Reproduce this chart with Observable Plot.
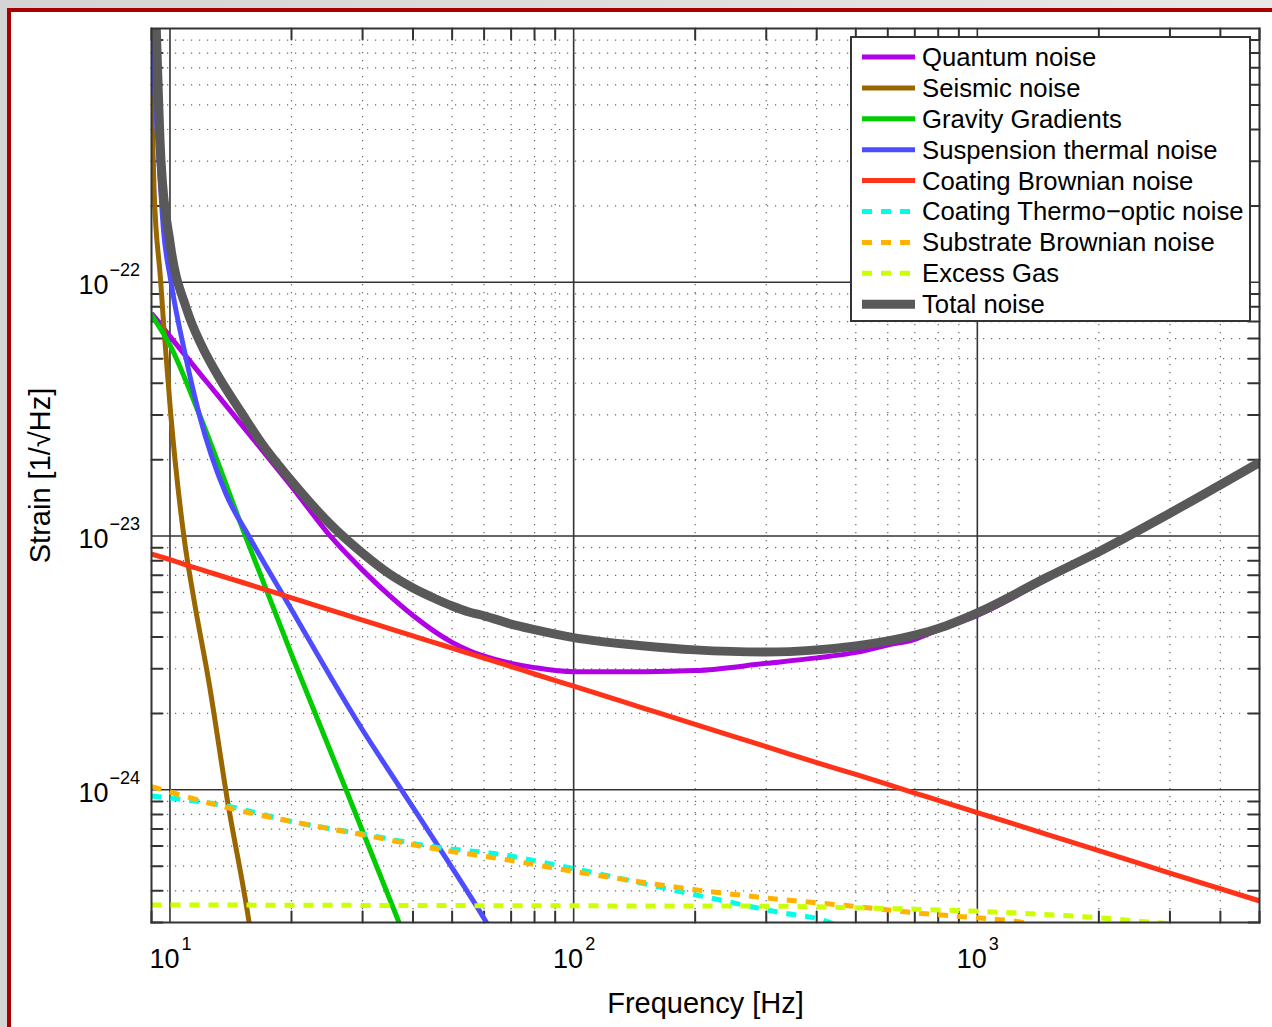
<!DOCTYPE html>
<html>
<head>
<meta charset="utf-8">
<script src="https://cdn.jsdelivr.net/npm/d3@7"></script>
<script src="https://cdn.jsdelivr.net/npm/@observablehq/plot@0.6"></script>
<style>
html, body { margin: 0; padding: 0; }
body { width: 1272px; height: 1027px; overflow: hidden; position: relative;
  background: linear-gradient(90deg, #d4d4d4, #e8e8e8); font-family: "Liberation Sans", Arial, sans-serif; }
#panel { position: absolute; left: 7px; top: 8px; width: 1300px; height: 1060px; background: #fff;
  border-left: 4px solid #a80000; border-top: 4px solid #a80000; }
#chart { position: absolute; left: 0; top: 0; }
#legend { position: absolute; left: 0; top: 0; }
</style>
</head>
<body>
<div id="panel"></div>
<div id="chart"></div>
<svg id="legend" width="1272" height="1027"></svg>
<script>
// ---- data (frequency in Hz, strain in 1/sqrt(Hz)) ----
const freq = [9, 9.25, 9.5, 10, 11, 12, 13, 15, 17, 20, 25, 30, 35, 40, 45, 50, 55, 60, 70, 80, 100, 150, 200, 300, 400, 500, 600, 700, 800, 1000, 1500, 2000, 3000, 5000];
const quantumNoise = [7.55e-23, 7.16e-23, 6.79e-23, 6.12e-23, 5.07e-23, 4.27e-23, 3.66e-23, 2.76e-23, 2.16e-23, 1.57e-23, 9.96e-24, 7.34e-24, 5.82e-24, 4.86e-24, 4.23e-24, 3.81e-24, 3.54e-24, 3.36e-24, 3.15e-24, 3.03e-24, 2.92e-24, 2.92e-24, 2.95e-24, 3.15e-24, 3.31e-24, 3.48e-24, 3.72e-24, 3.92e-24, 4.27e-24, 4.87e-24, 6.8e-24, 8.57e-24, 1.22e-23, 1.93e-23];
const coatingBrownian = [8.49e-24, 8.38e-24, 8.27e-24, 8.08e-24, 7.68e-24, 7.36e-24, 7.07e-24, 6.59e-24, 6.19e-24, 5.71e-24, 5.11e-24, 4.66e-24, 4.32e-24, 4.04e-24, 3.81e-24, 3.62e-24, 3.45e-24, 3.30e-24, 3.06e-24, 2.86e-24, 2.56e-24, 2.09e-24, 1.81e-24, 1.48e-24, 1.28e-24, 1.15e-24, 1.05e-24, 9.71e-25, 9.09e-25, 8.13e-25, 6.65e-25, 5.76e-25, 4.70e-25, 3.65e-25];
const totalNoise = [4.8e-21, 1.0e-21, 3.02e-22, 1.44e-22, 7.83e-23, 5.6e-23, 4.42e-23, 3.08e-23, 2.28e-23, 1.65e-23, 1.11e-23, 8.55e-24, 7.08e-24, 6.24e-24, 5.70e-24, 5.3e-24, 5.02e-24, 4.85e-24, 4.5e-24, 4.28e-24, 3.98e-24, 3.69e-24, 3.56e-24, 3.49e-24, 3.56e-24, 3.69e-24, 3.86e-24, 4.07e-24, 4.32e-24, 4.98e-24, 6.92e-24, 8.67e-24, 1.23e-23, 1.95e-23];

const seismicFreq = [8.9, 9.0, 9.13, 9.48, 9.66, 10.04, 10.83, 11.47, 12.5, 13.87, 15.71, 16.16];
const seismicNoise = [7.48e-22, 5.45e-22, 2.34e-22, 1.02e-22, 6.59e-23, 3.04e-23, 9.93e-24, 5.6e-24, 2.63e-24, 9.14e-25, 2.99e-25, 2.2e-25];

const gravityFreq = [8.95, 10, 11.8, 15.4, 20.1, 27.3, 37.0, 40];
const gravityGradients = [7.53e-23, 5.65e-23, 3.04e-23, 9.93e-24, 3.35e-24, 1.0e-24, 2.98e-25, 2.18e-25];

const suspensionFreq = [8.99, 9.2, 9.39, 9.63, 10.04, 10.94, 11.8, 13.75, 15.71, 19.37, 30.0, 37.0, 46.6, 60.6, 65];
const suspensionThermal = [9.8e-22, 5.2e-22, 3.02e-22, 1.63e-22, 1.02e-22, 5.08e-23, 3.04e-23, 1.47e-23, 9.93e-24, 5.6e-24, 1.72e-24, 1.03e-24, 5.86e-25, 3.03e-25, 2.5e-25];

const thermoOpticFreq = [9, 14, 20, 30, 47, 64, 100, 200, 330, 410, 500];
const coatingThermoOptic = [9.46e-25, 8.6e-25, 7.5e-25, 6.7e-25, 5.9e-25, 5.6e-25, 4.89e-25, 3.86e-25, 3.27e-25, 3.08e-25, 2.7e-25];

const substrateFreq = [9, 14, 20, 30, 47, 64, 100, 200, 330, 500, 710, 1000, 1250, 1500];
const substrateBrownian = [1.03e-24, 8.47e-25, 7.5e-25, 6.65e-25, 5.8e-25, 5.39e-25, 4.77e-25, 4.04e-25, 3.69e-25, 3.47e-25, 3.27e-25, 3.13e-25, 3.03e-25, 2.86e-25];

const gasFreq = [9, 100, 300, 500, 1000, 2000, 2500, 3000];
const excessGas = [3.52e-25, 3.49e-25, 3.48e-25, 3.43e-25, 3.32e-25, 3.13e-25, 3.04e-25, 2.97e-25];

const xMajorTicks = [10, 100, 1000];
const xExponents = ["1", "2", "3"];
const xMinorTicks = [9, 20, 30, 40, 50, 60, 70, 80, 90, 200, 300, 400, 500, 600, 700, 800, 900, 2000, 3000, 4000, 5000];
const yMajorTicks = [1e-24, 1e-23, 1e-22];
const yExponents = ["−24", "−23", "−22"];
const yMinorTicks = [3e-25, 4e-25, 5e-25, 6e-25, 7e-25, 8e-25, 9e-25, 2e-24, 3e-24, 4e-24, 5e-24, 6e-24, 7e-24, 8e-24, 9e-24, 2e-23, 3e-23, 4e-23, 5e-23, 6e-23, 7e-23, 8e-23, 9e-23, 2e-22, 3e-22, 4e-22, 5e-22, 6e-22, 7e-22, 8e-22, 9e-22];

const seriesNames = ["Quantum noise", "Seismic noise", "Gravity Gradients", "Suspension thermal noise", "Coating Brownian noise", "Coating Thermo−optic noise", "Substrate Brownian noise", "Excess Gas", "Total noise"];
const seriesColors = ["#b000e6", "#996600", "#00cc00", "#4d4dff", "#ff331a", "#00ffe6", "#ffb300", "#ccff00", "#595959"];

// ---- build tables ----
const pair = (fs, vs) => fs.map((f, i) => ({f, v: vs[i]}));
const series = [
  {data: pair(freq, quantumNoise), dashed: false, w: 5},
  {data: pair(seismicFreq, seismicNoise), dashed: false, w: 5},
  {data: pair(gravityFreq, gravityGradients), dashed: false, w: 5},
  {data: pair(suspensionFreq, suspensionThermal), dashed: false, w: 5},
  {data: pair(freq, coatingBrownian), dashed: false, w: 5},
  {data: pair(thermoOpticFreq, coatingThermoOptic), dashed: true, w: 5},
  {data: pair(substrateFreq, substrateBrownian), dashed: true, w: 5},
  {data: pair(gasFreq, excessGas), dashed: true, w: 5},
  {data: pair(freq, totalNoise), dashed: false, w: 9}
];
const DASH = "10,9";

const tickShape = {draw(ctx, l) { ctx.moveTo(0, 0); ctx.lineTo(0, -l); }};
const tickOpts = {length: 11, anchor: "start", shape: tickShape, stroke: "#333", strokeWidth: 2};

const marks = [
  Plot.ruleX(xMinorTicks, {stroke: "#666", strokeWidth: 1.2, strokeDasharray: "1.2,6.8"}),
  Plot.ruleY(yMinorTicks, {stroke: "#666", strokeWidth: 1.2, strokeDasharray: "1.2,6.8"}),
  Plot.ruleX(xMajorTicks, {stroke: "#333", strokeWidth: 1.6}),
  Plot.ruleY(yMajorTicks, {stroke: "#333", strokeWidth: 1.6}),
  Plot.vector(xMinorTicks, {x: d => d, frameAnchor: "bottom", rotate: 0, ...tickOpts}),
  Plot.vector(xMinorTicks, {x: d => d, frameAnchor: "top", rotate: 180, ...tickOpts}),
  Plot.vector(yMinorTicks, {y: d => d, frameAnchor: "left", rotate: 90, ...tickOpts}),
  Plot.vector(yMinorTicks, {y: d => d, frameAnchor: "right", rotate: -90, ...tickOpts}),
  ...series.map((s, i) => Plot.line(s.data, {
    x: "f", y: "v", stroke: seriesColors[i], strokeWidth: s.w, curve: "monotone-x", clip: true,
    strokeDasharray: s.dashed ? DASH : null, strokeLinecap: "butt", strokeLinejoin: "round"
  })),
  Plot.frame({stroke: "#333", strokeWidth: 2}),
  // tick labels
  Plot.text(xMajorTicks, {x: d => d, frameAnchor: "bottom", text: () => "10", textAnchor: "end", lineAnchor: "top", dx: 9.5, dy: 26, fontSize: 27, fill: "#000"}),
  Plot.text(xMajorTicks, {x: d => d, frameAnchor: "bottom", text: (d, i) => xExponents[i], textAnchor: "start", lineAnchor: "top", dx: 11.5, dy: 15, fontSize: 18, fill: "#000"}),
  Plot.text(yMajorTicks, {y: d => d, frameAnchor: "left", text: () => "10", textAnchor: "end", lineAnchor: "top", dx: -43, dy: -7, fontSize: 27, fill: "#000"}),
  Plot.text(yMajorTicks, {y: d => d, frameAnchor: "left", text: (d, i) => yExponents[i], textAnchor: "start", lineAnchor: "top", dx: -42, dy: -19, fontSize: 18, fill: "#000"}),
  // axis titles
  Plot.text(["Frequency [Hz]"], {frameAnchor: "bottom", text: d => d, textAnchor: "middle", lineAnchor: "middle", dy: 81, fontSize: 29, fill: "#000"}),
  Plot.text(["Strain [1/√Hz]"], {frameAnchor: "left", text: d => d, rotate: -90, textAnchor: "middle", lineAnchor: "middle", dx: -111, fontSize: 29, fill: "#000"})
];

const chart = Plot.plot({
  width: 1272, height: 1027,
  marginLeft: 151, marginRight: 13, marginTop: 28, marginBottom: 105,
  x: {type: "log", domain: [9, 5000], axis: null},
  y: {type: "log", domain: [3e-25, 1e-21], axis: null},
  style: {background: "transparent", overflow: "visible", fontFamily: "'Liberation Sans', Arial, sans-serif"},
  marks
});
document.getElementById("chart").appendChild(chart);

// ---- legend ----
const lg = d3.select("#legend");
const LX = 851, LY = 37, LW = 399, LH = 284, ROW0 = 57, STEP = 30.9;
lg.append("rect").attr("x", LX).attr("y", LY).attr("width", LW).attr("height", LH)
  .attr("fill", "#fff").attr("stroke", "#333").attr("stroke-width", 2);
seriesNames.forEach((name, i) => {
  const yy = ROW0 + i * STEP;
  lg.append("line").attr("x1", 862).attr("x2", 915).attr("y1", yy).attr("y2", yy)
    .attr("stroke", seriesColors[i]).attr("stroke-width", series[i].w)
    .attr("stroke-dasharray", series[i].dashed ? DASH : null);
  lg.append("text").attr("x", 922).attr("y", yy).attr("dy", "0.35em")
    .attr("font-family", "'Liberation Sans', Arial, sans-serif").attr("font-size", 25.7).attr("fill", "#000")
    .text(name);
});
</script>
</body>
</html>
